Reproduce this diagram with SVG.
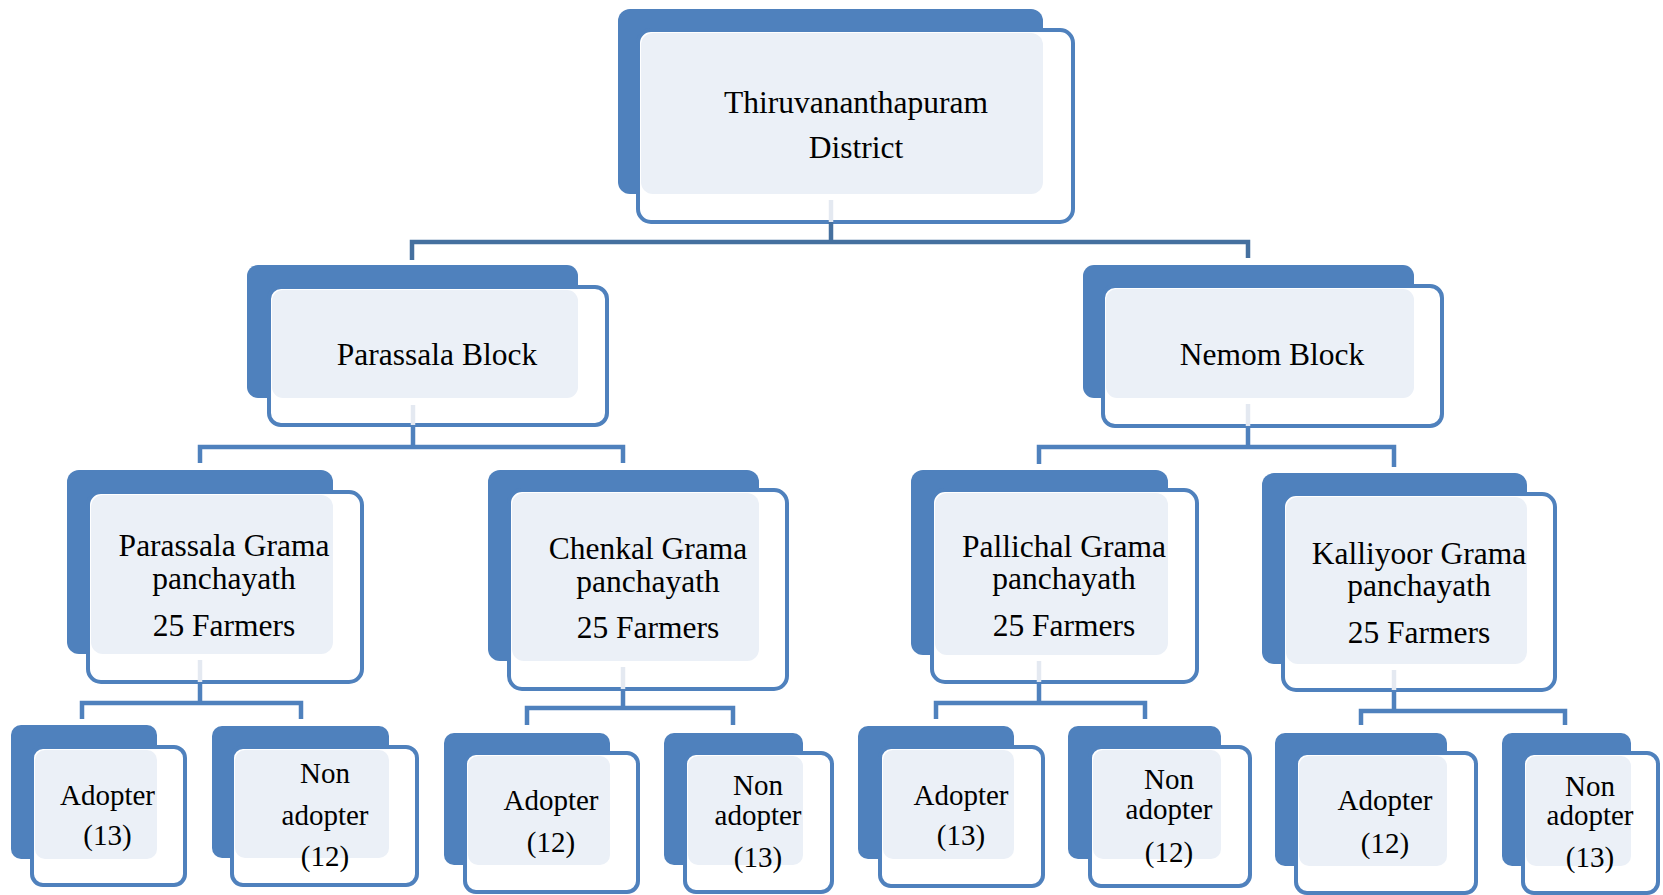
<svg xmlns="http://www.w3.org/2000/svg" width="1663" height="895" viewBox="0 0 1663 895">
<style>
.back{fill:#4F81BD}
.front{fill:#FFFFFF;stroke:#4F81BD;stroke-width:4}
.ov{fill:#EBF0F7}
text{font-family:"Liberation Serif","Times New Roman",serif;fill:#000;text-anchor:middle}
.t1{font-size:31.5px}
.t2{font-size:29px}
.con{fill:none;stroke:#4F81BD;stroke-width:4.5}
.con0{fill:none;stroke:#45709F;stroke-width:4.5}
.stub{fill:none;stroke:#E4E9F1;stroke-width:4.5}
</style>
<rect width="1663" height="895" fill="#FFFFFF"/>
<g id="node-district">
<rect class="back" x="618" y="9" width="425" height="185" rx="12"/>
<rect class="front" x="638" y="30" width="435" height="192" rx="13"/>
<rect class="ov" x="641" y="33" width="402" height="161" rx="12"/>
<text class="t1" x="856" y="113">Thiruvananthapuram</text>
<text class="t1" x="856" y="158">District</text>
</g>
<g id="node-parassala-block">
<rect class="back" x="247" y="265" width="331" height="133" rx="11"/>
<rect class="front" x="269" y="287" width="338" height="138" rx="12"/>
<rect class="ov" x="272" y="290" width="306" height="108" rx="11"/>
<text class="t1" x="437" y="365">Parassala Block</text>
</g>
<g id="node-nemom-block">
<rect class="back" x="1083" y="265" width="331" height="133" rx="11"/>
<rect class="front" x="1103" y="286" width="339" height="140" rx="12"/>
<rect class="ov" x="1106" y="289" width="308" height="109" rx="11"/>
<text class="t1" x="1272" y="365">Nemom Block</text>
</g>
<g id="node-parassala-grama">
<rect class="back" x="67" y="470" width="266" height="184" rx="12"/>
<rect class="front" x="88" y="492" width="274" height="190" rx="13"/>
<rect class="ov" x="91" y="495" width="242" height="159" rx="12"/>
<text class="t1" x="224" y="556">Parassala Grama</text>
<text class="t1" x="224" y="589">panchayath</text>
<text class="t1" x="224" y="636">25 Farmers</text>
</g>
<g id="node-chenkal-grama">
<rect class="back" x="488" y="470" width="271" height="191" rx="12"/>
<rect class="front" x="509" y="490" width="278" height="199" rx="13"/>
<rect class="ov" x="512" y="493" width="247" height="168" rx="12"/>
<text class="t1" x="648" y="559">Chenkal Grama</text>
<text class="t1" x="648" y="592">panchayath</text>
<text class="t1" x="648" y="638">25 Farmers</text>
</g>
<g id="node-pallichal-grama">
<rect class="back" x="911" y="470" width="257" height="185" rx="12"/>
<rect class="front" x="932" y="490" width="265" height="192" rx="13"/>
<rect class="ov" x="935" y="493" width="233" height="162" rx="12"/>
<text class="t1" x="1064" y="557">Pallichal Grama</text>
<text class="t1" x="1064" y="589">panchayath</text>
<text class="t1" x="1064" y="636">25 Farmers</text>
</g>
<g id="node-kalliyoor-grama">
<rect class="back" x="1262" y="473" width="265" height="191" rx="12"/>
<rect class="front" x="1283" y="494" width="272" height="196" rx="13"/>
<rect class="ov" x="1286" y="497" width="241" height="167" rx="12"/>
<text class="t1" x="1419" y="564">Kalliyoor Grama</text>
<text class="t1" x="1419" y="596">panchayath</text>
<text class="t1" x="1419" y="643">25 Farmers</text>
</g>
<g id="node-adopter-1">
<rect class="back" x="11" y="725" width="146" height="134" rx="10"/>
<rect class="front" x="32" y="747" width="153" height="138" rx="11"/>
<rect class="ov" x="35" y="750" width="122" height="109" rx="10"/>
<text class="t2" x="107.5" y="805">Adopter</text>
<text class="t2" x="107.5" y="845">(13)</text>
</g>
<g id="node-nonadopter-1">
<rect class="back" x="212" y="726" width="177" height="132" rx="10"/>
<rect class="front" x="232" y="747" width="185" height="138" rx="11"/>
<rect class="ov" x="235" y="750" width="154" height="108" rx="10"/>
<text class="t2" x="325" y="783">Non</text>
<text class="t2" x="325" y="825">adopter</text>
<text class="t2" x="325" y="866">(12)</text>
</g>
<g id="node-adopter-2">
<rect class="back" x="444" y="733" width="166" height="132" rx="10"/>
<rect class="front" x="465" y="753" width="173" height="139" rx="11"/>
<rect class="ov" x="468" y="756" width="142" height="109" rx="10"/>
<text class="t2" x="551" y="810">Adopter</text>
<text class="t2" x="551" y="852">(12)</text>
</g>
<g id="node-nonadopter-2">
<rect class="back" x="664" y="733" width="139" height="132" rx="10"/>
<rect class="front" x="685" y="753" width="147" height="139" rx="11"/>
<rect class="ov" x="688" y="756" width="115" height="109" rx="10"/>
<text class="t2" x="758" y="795">Non</text>
<text class="t2" x="758" y="825">adopter</text>
<text class="t2" x="758" y="867">(13)</text>
</g>
<g id="node-adopter-3">
<rect class="back" x="858" y="726" width="156" height="133" rx="10"/>
<rect class="front" x="880" y="747" width="163" height="139" rx="11"/>
<rect class="ov" x="883" y="750" width="131" height="109" rx="10"/>
<text class="t2" x="961" y="805">Adopter</text>
<text class="t2" x="961" y="845">(13)</text>
</g>
<g id="node-nonadopter-3">
<rect class="back" x="1068" y="726" width="153" height="133" rx="10"/>
<rect class="front" x="1090" y="747" width="160" height="139" rx="11"/>
<rect class="ov" x="1093" y="750" width="128" height="109" rx="10"/>
<text class="t2" x="1169" y="789">Non</text>
<text class="t2" x="1169" y="819">adopter</text>
<text class="t2" x="1169" y="862">(12)</text>
</g>
<g id="node-adopter-4">
<rect class="back" x="1275" y="733" width="172" height="133" rx="10"/>
<rect class="front" x="1296" y="753" width="180" height="140" rx="11"/>
<rect class="ov" x="1299" y="756" width="148" height="110" rx="10"/>
<text class="t2" x="1385" y="810">Adopter</text>
<text class="t2" x="1385" y="853">(12)</text>
</g>
<g id="node-nonadopter-4">
<rect class="back" x="1502" y="733" width="129" height="133" rx="10"/>
<rect class="front" x="1523" y="753" width="135" height="140" rx="11"/>
<rect class="ov" x="1526" y="756" width="105" height="110" rx="10"/>
<text class="t2" x="1590" y="796">Non</text>
<text class="t2" x="1590" y="825">adopter</text>
<text class="t2" x="1590" y="867">(13)</text>
</g>
<g id="connectors">
<path class="stub" d="M831 200V222"/>
<path class="con0" d="M831 222V242M412 260V242H1248V258"/>
<path class="stub" d="M413 405V425"/>
<path class="con" d="M413 425V447M200 463V447H623V463"/>
<path class="stub" d="M1248 404V426"/>
<path class="con" d="M1248 426V447M1039 464V447H1394V467"/>
<path class="stub" d="M200 660V682"/>
<path class="con" d="M200 682V703M82 719V703H301V719"/>
<path class="stub" d="M623 667V689"/>
<path class="con" d="M623 689V708M527 725V708H733V725"/>
<path class="stub" d="M1039 661V682"/>
<path class="con" d="M1039 682V703M936 719V703H1145V719"/>
<path class="stub" d="M1394 670V690"/>
<path class="con" d="M1394 690V711M1361 725V711H1565V725"/>
</g>
</svg>
